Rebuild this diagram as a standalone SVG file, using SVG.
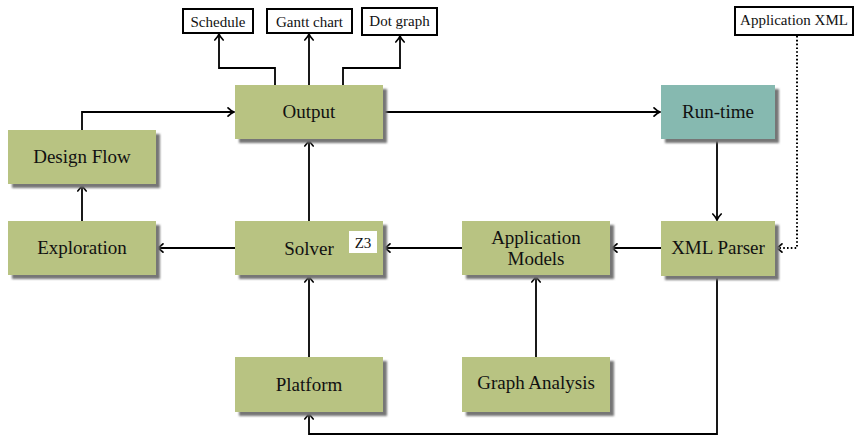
<svg xmlns="http://www.w3.org/2000/svg" width="856" height="436" viewBox="0 0 856 436">
<defs>
<filter id="blur" x="-10%" y="-10%" width="120%" height="130%"><feGaussianBlur stdDeviation="0.8"/></filter>
<marker id="arr" markerUnits="userSpaceOnUse" markerWidth="14" markerHeight="14" viewBox="-7 -7 14 14" refX="0" refY="0" orient="auto" overflow="visible">
<path d="M-6,-4.2 C-3.5,-1.7 -1.5,-0.5 0,0 C-1.5,0.5 -3.5,1.7 -6,4.2" fill="none" stroke="#000" stroke-width="1.7" stroke-linecap="round"/>
</marker>
</defs>
<style>
.shadow{fill:#767676;filter:url(#blur)}
.box{fill:#b8c382}
.teal{fill:#86b9b0}
.lbl{font-family:"Liberation Serif","DejaVu Serif",serif;font-size:19px;fill:#111;text-anchor:middle}
.sm{font-family:"Liberation Serif","DejaVu Serif",serif;font-size:15px;fill:#111;text-anchor:middle}
.sbox{fill:#fff;stroke:#000;stroke-width:2}
.edge{fill:none;stroke:#000;stroke-width:1.8}
.dot{fill:none;stroke:#000;stroke-width:2;stroke-dasharray:1.6 2.2}
</style>
<rect width="856" height="436" fill="#fff"/>
<g id="connectors">
<path class="edge" d="M275,85 V68 H219 V34" marker-end="url(#arr)"/>
<path class="edge" d="M309,85 V34" marker-end="url(#arr)"/>
<path class="edge" d="M343,85 V68 H400 V36" marker-end="url(#arr)"/>
<path class="edge" d="M82,130 V112 H234" marker-end="url(#arr)"/>
<path class="edge" d="M383,112 H660" marker-end="url(#arr)"/>
<path class="edge" d="M717,139 V220" marker-end="url(#arr)"/>
<path class="dot" d="M797,36 V248 H776" marker-end="url(#arr)"/>
<path class="edge" d="M661,248 H611" marker-end="url(#arr)"/>
<path class="edge" d="M462,248 H384" marker-end="url(#arr)"/>
<path class="edge" d="M235,248 H157" marker-end="url(#arr)"/>
<path class="edge" d="M82,221 V185" marker-end="url(#arr)"/>
<path class="edge" d="M309,221 V140" marker-end="url(#arr)"/>
<path class="edge" d="M309,357 V276" marker-end="url(#arr)"/>
<path class="edge" d="M536,357 V276" marker-end="url(#arr)"/>
<path class="edge" d="M717,276 V434 H309 V413" marker-end="url(#arr)"/>
</g>
<g id="schedule"><rect class="sbox" x="183" y="9" width="70" height="24"/><text class="sm" x="218" y="27">Schedule</text></g>
<g id="gantt"><rect class="sbox" x="267" y="9" width="85" height="24"/><text class="sm" x="309.5" y="27">Gantt chart</text></g>
<g id="dotgraph"><rect class="sbox" x="362" y="8" width="75" height="27"/><text class="sm" x="399.5" y="26">Dot graph</text></g>
<g id="appxml"><rect class="sbox" x="735" y="7" width="118" height="28"/><text class="sm" x="794" y="25">Application XML</text></g>
<g id="output"><rect class="shadow" x="239" y="89" width="148" height="54"/><rect class="box" x="235" y="85" width="148" height="54"/><text class="lbl" x="309" y="118">Output</text></g>
<g id="runtime"><rect class="shadow" x="665" y="89" width="114" height="54"/><rect class="teal" x="661" y="85" width="114" height="54"/><text class="lbl" x="718" y="118">Run-time</text></g>
<g id="designflow"><rect class="shadow" x="12" y="134" width="148" height="54"/><rect class="box" x="8" y="130" width="148" height="54"/><text class="lbl" x="82" y="163">Design Flow</text></g>
<g id="exploration"><rect class="shadow" x="12" y="225" width="148" height="54"/><rect class="box" x="8" y="221" width="148" height="54"/><text class="lbl" x="82" y="254">Exploration</text></g>
<g id="solver"><rect class="shadow" x="239" y="225" width="148" height="54"/><rect class="box" x="235" y="221" width="148" height="54"/><text class="lbl" x="309" y="255">Solver</text>
<rect x="349" y="231" width="28" height="22" fill="#fff"/><text class="sm" x="363" y="248">Z3</text></g>
<g id="appmodels"><rect class="shadow" x="466" y="225" width="148" height="54"/><rect class="box" x="462" y="221" width="148" height="54"/><text class="lbl" x="536" y="244">Application</text><text class="lbl" x="536" y="265">Models</text></g>
<g id="xmlparser"><rect class="shadow" x="665" y="225" width="114" height="55"/><rect class="box" x="661" y="221" width="114" height="55"/><text class="lbl" x="718" y="254">XML Parser</text></g>
<g id="platform"><rect class="shadow" x="239" y="361" width="148" height="55"/><rect class="box" x="235" y="357" width="148" height="55"/><text class="lbl" x="309" y="391">Platform</text></g>
<g id="graphanalysis"><rect class="shadow" x="466" y="361" width="148" height="55"/><rect class="box" x="462" y="357" width="148" height="55"/><text class="lbl" x="536" y="389">Graph Analysis</text></g>
</svg>
